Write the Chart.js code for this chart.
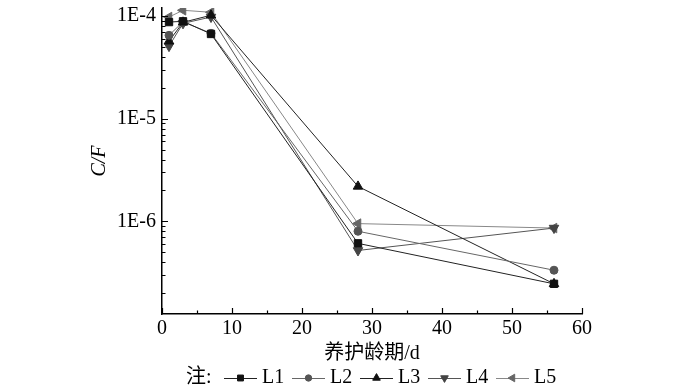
<!DOCTYPE html>
<html>
<head>
<meta charset="utf-8">
<script src="https://cdn.jsdelivr.net/npm/chart.js@4/dist/chart.umd.min.js"></script>
<style>
  html, body { margin: 0; padding: 0; background: #fff; }
  #wrap { width: 700px; height: 386px; position: relative; }
</style>
</head>
<body>
<div id="wrap"><canvas id="cfChart"></canvas></div>
<script>
// curing age (days)
const ages = [1, 3, 7, 28, 56];
const seriesNames = ['L1', 'L2', 'L3', 'L4', 'L5'];
const L1 = [8.75e-5, 8.9e-5, 6.7e-5, 6.1e-7, 2.46e-7];
const L2 = [6.5e-5, 8.8e-5, 6.8e-5, 8.0e-7, 3.34e-7];
const L3 = [5.7e-5, 8.7e-5, 1.02e-4, 2.19e-6, 2.46e-7];
const L4 = [5.1e-5, 8.5e-5, 9.8e-5, 5.2e-7, 8.6e-7];
const L5 = [9.8e-5, 1.14e-4, 1.09e-4, 9.5e-7, 8.6e-7];
const xTicks = [0, 10, 20, 30, 40, 50, 60];
const yTicks = [1e-6, 1e-5, 1e-4];

const SERIF = '"Liberation Serif", "Times New Roman", "Noto Sans CJK SC", serif';

const styles = [
  { color: '#111111', line: '#222222', point: 'rect', radius: 5.2, rotation: 0 },
  { color: '#555555', line: '#666666', point: 'circle', radius: 4, rotation: 0 },
  { color: '#111111', line: '#222222', point: 'triangle', radius: 5.5, rotation: 0 },
  { color: '#444444', line: '#555555', point: 'triangle', radius: 5.5, rotation: 180 },
  { color: '#666666', line: '#888888', point: 'triangle', radius: 5.5, rotation: 270 }
];

const allValues = [L1, L2, L3, L4, L5];
const datasets = allValues.map((vals, i) => ({
  label: seriesNames[i],
  data: vals.map((v, j) => ({ x: ages[j], y: v })),
  borderColor: styles[i].line,
  backgroundColor: styles[i].color,
  pointBorderColor: styles[i].color,
  pointBackgroundColor: styles[i].color,
  pointStyle: styles[i].point,
  pointRadius: styles[i].radius,
  pointRotation: styles[i].rotation,
  borderWidth: 1,
  pointBorderWidth: 1,
  tension: 0
}));

// inward tick marks on both axes
const innerTicks = {
  id: 'innerTicks',
  afterDraw(chart) {
    const ctx = chart.ctx;
    const xs = chart.scales.x, ys = chart.scales.y;
    const area = chart.chartArea;
    ctx.save();
    ctx.strokeStyle = '#000';
    ctx.lineWidth = 1.2;
    ctx.beginPath();
    for (let v = 0; v <= 60; v += 5) {
      const px = Math.round(xs.getPixelForValue(v)) + 0.5;
      const len = v % 10 === 0 ? 6 : 3.5;
      ctx.moveTo(px, area.bottom);
      ctx.lineTo(px, area.bottom - len);
    }
    for (let e = -7; e <= -4; e++) {
      for (let m = 1; m <= 9; m++) {
        const v = m * Math.pow(10, e);
        if (v < ys.min || v > ys.max) continue;
        const py = Math.round(ys.getPixelForValue(v)) + 0.5;
        const len = m === 1 ? 6 : 3.5;
        ctx.moveTo(area.left, py);
        ctx.lineTo(area.left + len, py);
      }
    }
    ctx.stroke();
    ctx.restore();
  }
};

// legend row at the bottom: "注:" then line + marker + name per series
const noteLegend = {
  id: 'noteLegend',
  afterDraw(chart) {
    const ctx = chart.ctx;
    const y = 378;
    ctx.save();
    ctx.font = '20px ' + SERIF;
    ctx.fillStyle = '#000';
    ctx.textBaseline = 'middle';
    ctx.textAlign = 'left';
    ctx.fillText('注:', 186, y);
    let x = 224;
    chart.data.datasets.forEach((ds) => {
      ctx.strokeStyle = ds.borderColor;
      ctx.lineWidth = 1;
      ctx.beginPath();
      ctx.moveTo(x, y + 0.5);
      ctx.lineTo(x + 33, y + 0.5);
      ctx.stroke();
      ctx.fillStyle = ds.pointBackgroundColor;
      ctx.strokeStyle = ds.pointBorderColor;
      Chart.helpers.drawPoint(ctx, {
        pointStyle: ds.pointStyle,
        radius: ds.pointRadius * 0.8,
        rotation: ds.pointRotation,
        borderWidth: 1
      }, x + 16.5, y);
      ctx.fillStyle = '#000';
      ctx.fillText(ds.label, x + 38, y);
      x += 68;
    });
    ctx.restore();
  }
};

new Chart(document.getElementById('cfChart'), {
  type: 'line',
  data: { datasets },
  options: {
    responsive: true,
    maintainAspectRatio: false,
    animation: false,
    layout: { padding: { left: 88, right: 118, top: 0, bottom: 20 } },
    plugins: {
      legend: { display: false },
      tooltip: { enabled: false }
    },
    scales: {
      x: {
        type: 'linear',
        min: 0,
        max: 60,
        afterBuildTicks: (s) => { s.ticks = xTicks.map(v => ({ value: v })); },
        afterFit: (s) => { s.height = 52; },
        grid: { display: true, drawOnChartArea: false, drawTicks: false },
        border: { display: true, color: '#000', width: 1.5 },
        ticks: {
          color: '#000',
          padding: 3,
          maxRotation: 0,
          font: { family: SERIF, size: 20 }
        },
        title: {
          display: true,
          text: '养护龄期/d',
          color: '#000',
          padding: 0,
          font: { family: SERIF, size: 20 }
        }
      },
      y: {
        type: 'logarithmic',
        min: 1.25e-7,
        max: 1.2e-4,
        afterBuildTicks: (s) => { s.ticks = yTicks.map(v => ({ value: v })); },
        afterFit: (s) => { s.width = 74; },
        grid: { display: true, drawOnChartArea: false, drawTicks: false },
        border: { display: true, color: '#000', width: 1.5 },
        ticks: {
          color: '#000',
          padding: 6,
          font: { family: SERIF, size: 20, lineHeight: 0.2 },
          callback: (v) => '1E' + Math.round(Math.log10(v))
        },
        title: {
          display: true,
          text: 'C/F',
          color: '#000',
          padding: 0,
          font: { family: SERIF, size: 20, style: 'italic' }
        }
      }
    }
  },
  plugins: [innerTicks, noteLegend]
});
</script>
</body>
</html>
